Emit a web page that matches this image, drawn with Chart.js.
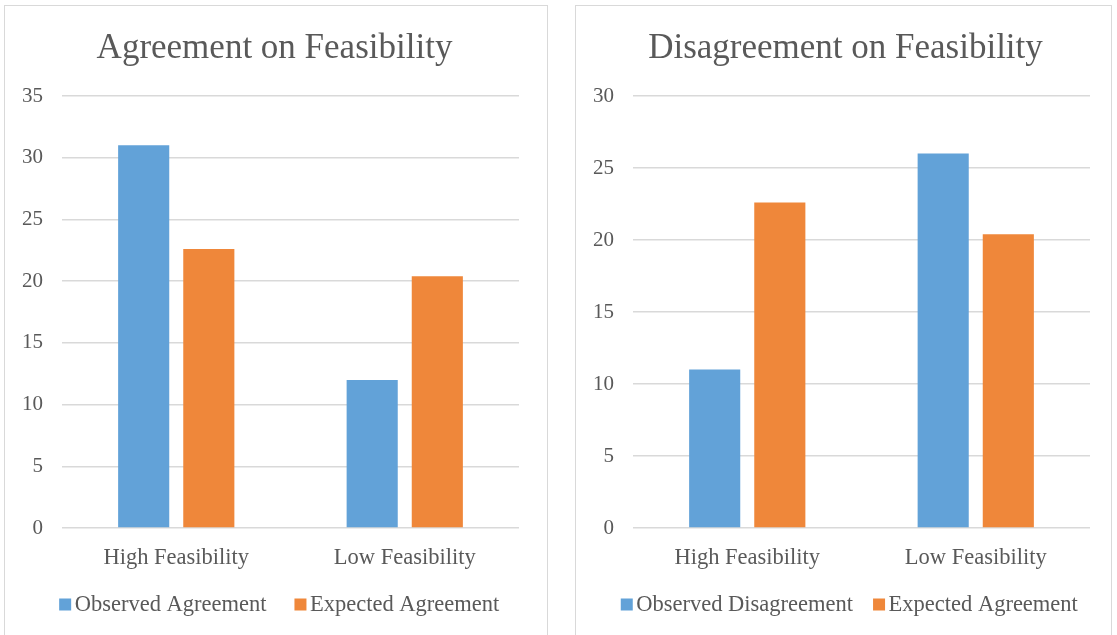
<!DOCTYPE html>
<html>
<head>
<meta charset="utf-8">
<script src="https://cdn.jsdelivr.net/npm/chart.js@4.4.0/dist/chart.umd.min.js"></script>
<style>
  html, body { margin: 0; padding: 0; background: #fff; overflow: hidden; }
  .panel {
    position: absolute;
    top: 5px;
    height: 640px;
    border: 1px solid #d9d9d9;
    background: #fff;
  }
  #p1 { left: 4px; width: 542px; }
  #p2 { left: 575px; width: 535px; }
  .panel canvas { display: block; }
</style>
</head>
<body>
<div class="panel" id="p1"><canvas id="c1" width="542" height="629"></canvas></div>
<div class="panel" id="p2"><canvas id="c2" width="535" height="629"></canvas></div>
<script>
// Categories shared by both charts
const categories = ['High Feasibility', 'Low Feasibility'];

// Agreement on feasibility
const observedAgreement = [31, 12];
const expectedAgreementA = [22.6, 20.4];

// Disagreement on feasibility
const observedDisagreement = [11, 26];
const expectedAgreementB = [22.6, 20.4];

// Axis settings
const agreementMax = 35;
const disagreementMax = 30;
const tickStep = 5;

const BLUE = '#62A2D8';
const ORANGE = '#EF873A';
const TEXT = '#595959';
const GRID = '#d9d9d9';
const SERIF = "'Liberation Serif', 'Times New Roman', serif";

// Plot area runs from y=90 to y=522 in each 629px-tall canvas.
const PLOT_BOTTOM = 522;
const X_AXIS_HEIGHT = 54;

// Compact legend row: small square, tight gap, then the series name.
const compactLegend = {
  id: 'compactLegend',
  afterDraw(chart, args, opts) {
    const ctx = chart.ctx;
    const sets = chart.data.datasets;
    ctx.save();
    ctx.font = `${opts.fontSize}px ${SERIF}`;
    ctx.textBaseline = 'middle';
    ctx.textAlign = 'left';
    const widths = sets.map(d => ctx.measureText(d.label).width);
    const total = widths.reduce((a, w) => a + opts.box + opts.textGap + w, 0)
      + opts.itemGap * (sets.length - 1);
    let x = opts.centerX - total / 2;
    sets.forEach((d, i) => {
      ctx.fillStyle = d.backgroundColor;
      ctx.fillRect(x, opts.y - opts.box / 2, opts.box, opts.box);
      x += opts.box + opts.textGap;
      ctx.fillStyle = TEXT;
      ctx.fillText(d.label, x, opts.y + 1);
      x += widths[i] + opts.itemGap;
    });
    ctx.restore();
  }
};

function makeChart(id, title, labels, seriesA, seriesB, yMax, lay) {
  const canvas = document.getElementById(id);
  const padBottom = canvas.height - PLOT_BOTTOM - X_AXIS_HEIGHT;

  return new Chart(canvas, {
    type: 'bar',
    data: {
      labels: categories,
      datasets: [
        { label: labels[0], data: seriesA, backgroundColor: BLUE,
          categoryPercentage: 0.57, barPercentage: 0.785 },
        { label: labels[1], data: seriesB, backgroundColor: ORANGE,
          categoryPercentage: 0.57, barPercentage: 0.785 }
      ]
    },
    plugins: [compactLegend],
    options: {
      responsive: false,
      animation: false,
      layout: { padding: { left: lay.padLeft, right: lay.padRight, top: 0, bottom: padBottom } },
      plugins: {
        title: {
          display: true,
          text: title,
          color: TEXT,
          font: { family: SERIF, size: 35, weight: 'normal' },
          padding: { top: 22, bottom: 26 }
        },
        legend: { display: false },
        tooltip: { enabled: false },
        compactLegend: {
          centerX: lay.legendCenter,
          y: 598.5,
          fontSize: 22.5,
          box: 12,
          textGap: 3.5,
          itemGap: lay.itemGap
        }
      },
      scales: {
        x: {
          grid: { display: false, drawTicks: false },
          border: { display: false },
          ticks: { color: TEXT, font: { family: SERIF, size: 22.5 }, padding: 17 },
          afterFit: s => { s.height = X_AXIS_HEIGHT; }
        },
        y: {
          min: 0,
          max: yMax,
          ticks: { stepSize: tickStep, color: TEXT, font: { family: SERIF, size: 21 }, padding: 19 },
          grid: { color: GRID, lineWidth: 1.5, drawTicks: false },
          border: { display: false },
          afterFit: s => { s.width = lay.axisWidth; }
        },
        // empty right-hand margin so the plot ends short of the panel edge
        margin: {
          type: 'linear',
          position: 'right',
          grid: { display: false, drawTicks: false },
          border: { display: false },
          ticks: { display: false },
          afterFit: s => { s.width = lay.rightMargin; }
        }
      }
    }
  });
}

makeChart('c1', 'Agreement on Feasibility',
  ['Observed Agreement', 'Expected Agreement'],
  observedAgreement, expectedAgreementA, agreementMax,
  { padLeft: 0, padRight: 3, axisWidth: 57, rightMargin: 25, legendCenter: 274.2, itemGap: 28 });

makeChart('c2', 'Disagreement on Feasibility',
  ['Observed Disagreement', 'Expected Agreement'],
  observedDisagreement, expectedAgreementB, disagreementMax,
  { padLeft: 4, padRight: 0, axisWidth: 53, rightMargin: 21, legendCenter: 273.3, itemGap: 20 });
</script>
</body>
</html>
